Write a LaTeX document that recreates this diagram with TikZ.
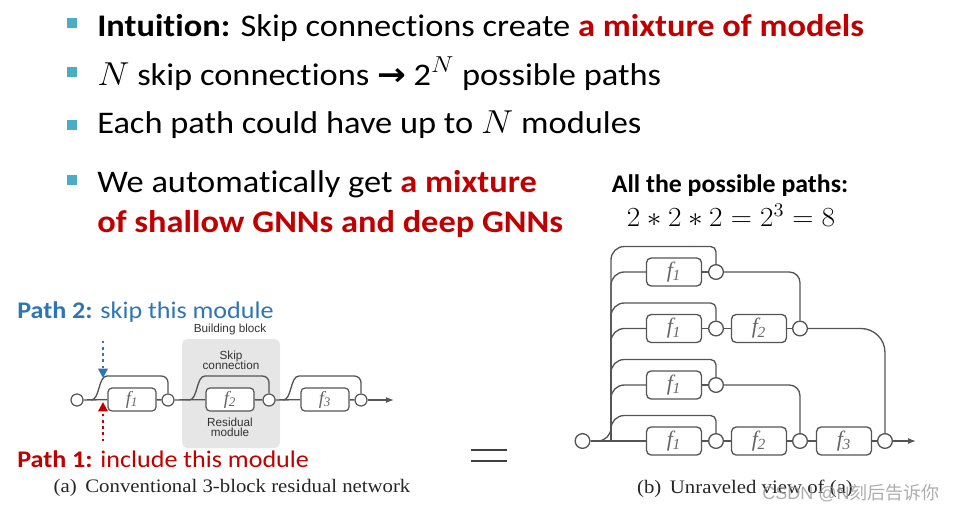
\documentclass[tikz,border=0pt]{standalone}
\usepackage{fontspec}
\setmainfont[Ligatures={NoCommon,NoRequired,NoContextual},Contextuals=NoAlternate]{Carlito}
\newfontfamily\tms{Liberation Serif}
\newfontfamily\hel{Liberation Sans}
\newfontfamily\djv{DejaVu Sans}
\newfontfamily\cjk{Noto Sans CJK SC}
\usetikzlibrary{arrows.meta}
\definecolor{ppred}{HTML}{C00000}
\definecolor{ppblue}{HTML}{2E75B6}
\definecolor{bul}{HTML}{4BACC6}
\definecolor{lnc}{HTML}{555555}
\definecolor{flab}{HTML}{666666}
\definecolor{blockgray}{HTML}{E6E6E6}
\newcommand\fsub[1]{{\tms\itshape f\kern-0.2pt\textsubscript{#1}}}
\newcommand\pxfont[1]{\fontsize{#1}{#1}\selectfont}
\newcommand\hs[2]{\scalebox{#1}[1]{#2}}
\begin{document}
\begin{tikzpicture}[x=0.75pt,y=-0.75pt,
  lnk/.style={draw=lnc, line width=1pt},
  fboxa/.style={draw=lnc, line width=0.9pt, fill=white, rounded corners=3pt, minimum width=36pt, minimum height=17.25pt, inner sep=0pt, text=flab, font=\pxfont{14pt}},
  fboxb/.style={draw=lnc, line width=1pt, fill=white, rounded corners=3.5pt, minimum width=41.25pt, minimum height=21pt, inner sep=0pt, text=flab, font=\pxfont{16.5pt}},
  cnodea/.style={circle, draw=lnc, line width=0.9pt, fill=white, minimum size=9pt, inner sep=0pt},
  cnodeb/.style={circle, draw=lnc, line width=1pt, fill=white, minimum size=11pt, inner sep=0pt},
  bullettxt/.style={anchor=base west, inner sep=0pt, font=\pxfont{23.6pt}},
  smalllab/.style={font=\hel\pxfont{8.8pt}, text=black!80, align=center, inner sep=0pt},
  tip/.style={-{Latex[length=6pt,width=4.5pt]}},
]
\useasboundingbox (0,0) rectangle (958,512);

% ---------- bullets ----------
\fill[bul] (67,18) rectangle (77,28);
\fill[bul] (67,67) rectangle (77,77);
\fill[bul] (67,120) rectangle (77,130);
\fill[bul] (67,175) rectangle (77,185);
\node[bullettxt] (t1) at (97,36.5) {\hs{1.093}{\textbf{Intuition:} Skip connections create \textcolor{ppred}{\textbf{a mixture of models}}}};
\node[bullettxt] (t2) at (97,85) {\hs{1.093}{$N$ skip connections {\djv\bfseries →} 2\textsuperscript{$N$} possible paths}};
\node[bullettxt] (t3) at (97,133) {\hs{1.093}{Each path could have up to $N$ modules}};
\node[bullettxt] (t4) at (97,192) {\hs{1.093}{We automatically get \textcolor{ppred}{\textbf{a mixture}}}};
\node[bullettxt] (t5) at (97,232) {\hs{1.093}{\textcolor{ppred}{\textbf{of shallow GNNs and deep GNNs}}}};

\node[font=\bfseries\pxfont{19pt}, inner sep=0pt] (allp) at (730,186) {\hs{1.02}{All the possible paths:}};
\node[font=\pxfont{21pt}, inner sep=0pt] (eq) at (731,215) {\hs{1.06}{$2*2*2=2^3=8$}};

% ---------- left diagram (a) ----------
\fill[blockgray, rounded corners=4pt] (182,339) rectangle (280,448);
\node[smalllab] (bb) at (230,329) {Building block};
\node[smalllab] (skc) at (231,360) {Skip\\[-1.5pt]connection};
\node[smalllab] (resm) at (230,427) {Residual\\[-1.5pt]module};

\node[cnodea] (a0) at (77,400) {};
\node[fboxa] (af1) at (132,399.5) {\fsub{1}};
\node[cnodea] (a1) at (168,400) {};
\node[fboxa] (af2) at (230,399.5) {\fsub{2}};
\node[cnodea] (a2) at (269,400) {};
\node[fboxa] (af3) at (325,399.5) {\fsub{3}};
\node[cnodea] (a3) at (361,400) {};
\coordinate (aend) at (394,400);

\draw[lnk] (a0) -- (af1) -- (a1) -- (af2) -- (a2) -- (af3) -- (a3);
\draw[lnk, tip] (a3) -- (aend);

\coordinate (s1) at (91,400);
\coordinate (s2) at (189,400);
\coordinate (s3) at (283,400);
\draw[lnk] (s1) .. controls +(9,0) and +(-9,0) .. (107,376) [rounded corners=5pt] -- (168,376) -- (a1.north);
\draw[lnk] (s2) .. controls +(9,0) and +(-9,0) .. (205,376) [rounded corners=5pt] -- (269,376) -- (a2.north);
\draw[lnk] (s3) .. controls +(9,0) and +(-9,0) .. (299,376) [rounded corners=5pt] -- (361,376) -- (a3.north);

% path arrows
\coordinate (bls) at (103,341);
\coordinate (ble) at (103,378);
\coordinate (rds) at (103,441);
\coordinate (rde) at (103,402);
\draw[ppblue, line width=1.8pt, dash pattern=on 1.8pt off 2.8pt, -{Triangle[length=7pt,width=7pt]}] (bls) -- (ble);
\draw[ppred, line width=1.8pt, dash pattern=on 1.8pt off 2.8pt, -{Triangle[length=7pt,width=7pt]}] (rds) -- (rde);

\node[anchor=base west, inner sep=0pt, font=\pxfont{17.9pt}, text=ppblue] (p2) at (17,318) {\hs{1.093}{\textbf{Path 2:} skip this module}};
\node[anchor=base west, inner sep=0pt, font=\pxfont{17.9pt}, text=ppred] (p1) at (17,467) {\hs{1.093}{\textbf{Path 1:} include this module}};
\node[font=\tms\pxfont{14.3pt}, text=black!85, inner sep=0pt] (capa) at (232,488) {\hs{1.09}{(a)\, Conventional 3-block residual network}};

% equal sign
\draw[draw=black!75, line width=2pt] (471,450) -- (507,450);
\draw[draw=black!75, line width=2pt] (471,461) -- (507,461);

% ---------- right diagram (b) ----------
\node[cnodeb] (cin) at (582.5,441) {};
\node[fboxb] (b1f1) at (674,272) {\fsub{1}};
\node[cnodeb] (b1a) at (716,272) {};
\node[fboxb] (b2f1) at (674,328.5) {\fsub{1}};
\node[cnodeb] (b2a) at (716,328.5) {};
\node[fboxb] (b2f2) at (759,328.5) {\fsub{2}};
\node[cnodeb] (b2b) at (800,328.5) {};
\node[fboxb] (b3f1) at (674,385) {\fsub{1}};
\node[cnodeb] (b3a) at (716,385) {};
\node[fboxb] (b4f1) at (674,441) {\fsub{1}};
\node[cnodeb] (b4a) at (716,441) {};
\node[fboxb] (b4f2) at (759,441) {\fsub{2}};
\node[cnodeb] (b4b) at (800,441) {};
\node[fboxb] (b4f3) at (844,441) {\fsub{3}};
\node[cnodeb] (b4c) at (885,441) {};
\coordinate (bend) at (916,441);
\coordinate (tb) at (611,441);
\coordinate (k1) at (690,246.5);
\coordinate (k2) at (690,303);
\coordinate (k3) at (690,359.5);
\coordinate (k4) at (690,415.5);

% trunk and skip lines
\draw[lnk, rounded corners=10pt] (cin.east) -| (611,246.5) -- (k1);
\draw[lnk, rounded corners=10pt] (tb) |- (k2);
\draw[lnk, rounded corners=10pt] (tb) |- (k3);
\draw[lnk, rounded corners=10pt] (tb) |- (k4);
\draw[lnk, rounded corners=4pt] (k1) -| (b1a.north);
\draw[lnk, rounded corners=4pt] (k2) -| (b2a.north);
\draw[lnk, rounded corners=4pt] (k3) -| (b3a.north);
\draw[lnk, rounded corners=4pt] (k4) -| (b4a.north);
\draw[lnk, rounded corners=10pt] (tb) |- (b1f1.west);
\draw[lnk, rounded corners=10pt] (tb) |- (b2f1.west);
\draw[lnk, rounded corners=10pt] (tb) |- (b3f1.west);

\draw[lnk] (b1f1) -- (b1a);
\draw[lnk] (b2f1) -- (b2a) -- (b2f2) -- (b2b);
\draw[lnk] (b3f1) -- (b3a);
\draw[lnk] (cin) -- (b4f1) -- (b4a) -- (b4f2) -- (b4b) -- (b4f3) -- (b4c);
\draw[lnk, tip] (b4c) -- (bend);

\draw[lnk, rounded corners=8pt] (b1a.east) -| (b2b.north);
\draw[lnk, rounded corners=18pt] (b2b.east) -| (b4c.north);
\draw[lnk, rounded corners=8pt] (b3a.east) -| (b4b.north);

\node[font=\tms\pxfont{14.3pt}, text=black!85, inner sep=0pt] (capb) at (745,489) {\hs{1.09}{(b)\, Unraveled view of (a)}};
\node[font=\pxfont{13.5pt}, text=black!40, inner sep=0pt, opacity=0.8] (wm) at (851,493) {{\hel CSDN @N}{\cjk 刻后告诉你}};
\end{tikzpicture}
\end{document}
